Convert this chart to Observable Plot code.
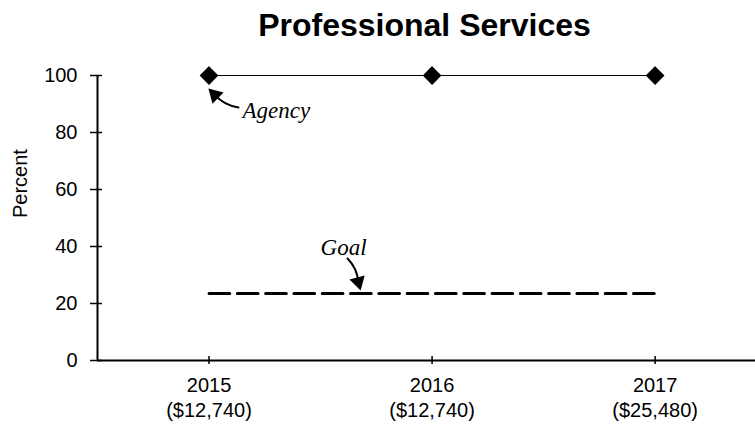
<!DOCTYPE html>
<html>
<head>
<meta charset="utf-8">
<script src="https://cdn.jsdelivr.net/npm/d3@7"></script>
<script src="https://cdn.jsdelivr.net/npm/@observablehq/plot@0.6"></script>
<style>
  html, body { margin: 0; padding: 0; background: #fff; }
  #chart svg { display: block; }
</style>
</head>
<body>
<div id="chart"></div>
<script>
// ---- data ----
const title = "Professional Services";
const yLabel = "Percent";
const years = [2015, 2016, 2017];
const amounts = ["($12,740)", "($12,740)", "($25,480)"];
const agency = [100, 100, 100];
const goal = [23.5, 23.5, 23.5];
const yTicks = [0, 20, 40, 60, 80, 100];
const xDomain = [2014.5, 2017.45];

// annotations (data space)
const noteLabels = ["Agency", "Goal"];
const noteX = [2015.15, 2015.5];
const noteY = [87.7, 39.6];
// arrow shafts: tail -> head centre
const arrowX1 = [2015.132, 2015.621];
const arrowY1 = [88.8, 35.8];
const arrowX2 = [2015.026, 2015.669];
const arrowY2 = [93.2, 27.6];
const headAngle = [-45, 165];

const agencyData = years.map((yr, i) => ({year: yr, value: agency[i]}));
const goalData = years.map((yr, i) => ({year: yr, value: goal[i]}));
const labelOf = new Map(years.map((yr, i) => [yr, `${yr}\n${amounts[i]}`]));
const notes = noteLabels.map((label, i) => ({label, x: noteX[i], y: noteY[i]}));
const arrows = noteLabels.map((_, i) => ({x1: arrowX1[i], y1: arrowY1[i], x2: arrowX2[i], y2: arrowY2[i], a: headAngle[i]}));

const sans = "'Liberation Sans', Arial, sans-serif";
const serif = "'Liberation Serif', 'Times New Roman', serif";

const chart = Plot.plot({
  width: 755,
  height: 424,
  marginLeft: 97,
  marginRight: 0,
  marginTop: 75,
  marginBottom: 64,
  style: {fontFamily: sans, color: "black", background: "white", overflow: "visible"},
  x: {domain: xDomain, axis: null},
  y: {domain: [0, 100], axis: null},
  marks: [
    // axis lines
    Plot.ruleY([0], {stroke: "black", strokeWidth: 2}),
    Plot.ruleX([xDomain[0]], {stroke: "black", strokeWidth: 2}),
    // y ticks crossing the axis
    Plot.axisY(yTicks, {tickSize: 12, dx: 5, tickFormat: () => "", stroke: "black", strokeWidth: 1.5}),
    Plot.axisY(yTicks, {tickSize: 0, tickPadding: 20, fontSize: 20, fill: "black"}),
    // x ticks crossing the axis
    Plot.axisX(years, {tickSize: 8, dy: -4, tickFormat: () => "", stroke: "black", strokeWidth: 1.5}),
    Plot.axisX(years, {tickSize: 0, tickPadding: 14, fontSize: 20, lineHeight: 1.25, fill: "black",
      tickFormat: d => labelOf.get(d)}),
    // y label
    Plot.text([yLabel], {frameAnchor: "left", dx: -77, rotate: -90, fontSize: 20, fill: "black"}),
    // title
    Plot.text([title], {frameAnchor: "top", dy: -62, dx: -2, fontSize: 32, fontWeight: "bold", fill: "black"}),
    // goal dashed line
    Plot.lineY(goalData, {x: "year", y: "value", stroke: "black", strokeWidth: 3, strokeDasharray: "20.7,7.6"}),
    // agency line + diamonds
    Plot.lineY(agencyData, {x: "year", y: "value", stroke: "black", strokeWidth: 1}),
    Plot.dot(agencyData, {x: "year", y: "value", symbol: "diamond2", r: 7.5, fill: "black", stroke: "black"}),
    // annotations
    Plot.text(notes, {x: "x", y: "y", text: "label", textAnchor: "start", fontSize: 23,
      fontStyle: "italic", fontFamily: serif, fill: "black"}),
    Plot.arrow(arrows, {x1: "x1", y1: "y1", x2: "x2", y2: "y2", bend: 20,
      stroke: "black", strokeWidth: 2, headLength: 0}),
    Plot.dot(arrows, {x: "x2", y: "y2", rotate: "a", symbol: "triangle2", r: 7.5, fill: "black", stroke: "none"})
  ]
});

document.getElementById("chart").appendChild(chart);
</script>
</body>
</html>
